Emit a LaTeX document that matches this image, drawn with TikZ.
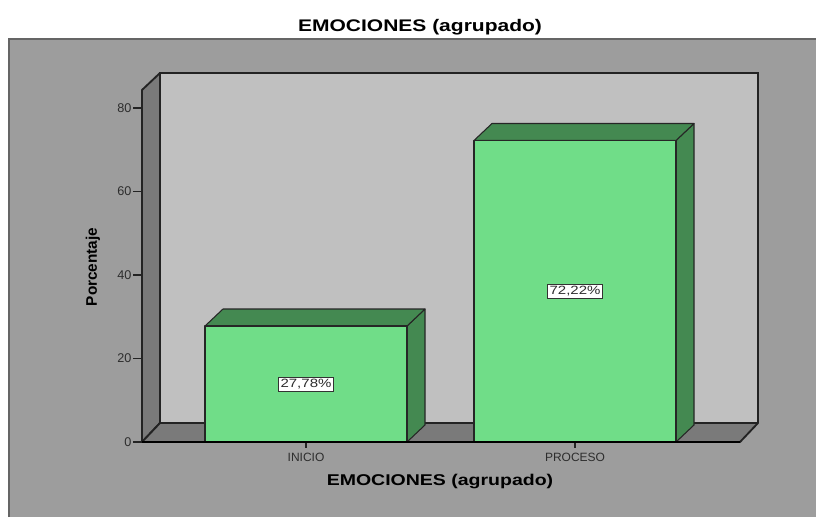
\documentclass[tikz,border=0pt]{standalone}
\usepackage{fontspec}
\setmainfont{Liberation Sans}[FakeStretch=1.25]
\newfontfamily\plainfont{Liberation Sans}
\usetikzlibrary{positioning}
\definecolor{bggray}{RGB}{157,157,157}
\definecolor{wallgray}{RGB}{192,192,192}
\definecolor{sidegray}{RGB}{122,122,122}
\definecolor{edgegray}{RGB}{35,35,35}
\definecolor{textgray}{RGB}{45,45,45}
\definecolor{barlight}{RGB}{112,221,136}
\definecolor{bardark}{RGB}{68,137,81}

\begin{document}
\begin{tikzpicture}[x=0.75pt, y=-0.75pt,
    wall/.style={fill=sidegray, draw=edgegray, line width=1.4pt, line join=round},
    backwall/.style={fill=wallgray, draw=edgegray, line width=1.4pt},
    barfront/.style={fill=barlight, draw=black!85, line width=0.8pt, line join=round},
    barside/.style={fill=bardark, draw=black!85, line width=0.8pt, line join=round},
    valuebox/.style={fill=white, draw=black!80, line width=0.6pt, inner sep=1.5pt, text=textgray, font=\fontsize{9}{10}\selectfont},
    ticklabel/.style={anchor=east, inner sep=1pt, text=textgray, font=\plainfont\fontsize{9.5}{10}\selectfont},
    catlabel/.style={text=textgray, inner sep=0pt, font=\plainfont\fontsize{9}{10}\selectfont}]
\useasboundingbox (0,0) rectangle (816,517);

% chart frame
\fill[bggray] (9,39) rectangle (816,517);
\draw[edgegray!70, line width=0.8pt] (9,517) -- (9,39) -- (816,39);
\node[font=\bfseries\fontsize{12.6}{14}\selectfont] (title) at (420,27) {EMOCIONES (agrupado)};

% 3d box of the plot
\draw[backwall] (160,423) -- (160,73) -- (758,73) -- (758,423);
\draw[wall] (142,442) -- (142,90) -- (160,73) -- (160,423) -- cycle;
\draw[wall] (142,442) -- (160,423) -- (758,423) -- (740,442) -- cycle;

% y axis
\foreach \t in {0,20,...,80}{
    \draw[edgegray, line width=0.8pt] (133,{442-4.175*\t}) -- (142,{442-4.175*\t});
    \node[ticklabel] (tick-\t) at (133,{442-4.175*\t}) {\t};
}
\node[rotate=90, font=\plainfont\bfseries\fontsize{11.5}{13}\selectfont] (ytitle) at (93,267) {Porcentaje};

% bars
\foreach \x/\v/\name/\lab/\txt in {205/27.78/inicio/INICIO/{27,78\%}, 474/72.22/proceso/PROCESO/{72,22\%}}{
    \pgfmathsetmacro{\ytop}{442-4.175*\v}
    \draw[barside] (\x+202,442) -- (\x+220,425) -- (\x+220,\ytop-17) -- (\x+202,\ytop) -- cycle;
    \draw[barside] (\x,\ytop) -- (\x+18,\ytop-17) -- (\x+220,\ytop-17) -- (\x+202,\ytop) -- cycle;
    \draw[barfront] (\x,442) rectangle (\x+202,\ytop);
    \node[valuebox] (val-\name) at (\x+101,{(\ytop+442)/2}) {\txt};
    \draw[edgegray, line width=0.8pt] (\x+101,442) -- (\x+101,448);
    \node[catlabel] (cat-\name) at (\x+101,457) {\lab};
}
\draw[black, line width=1pt] (142,442) -- (740,442);

\node[font=\bfseries\fontsize{11.7}{13}\selectfont] (xtitle) at (440,481) {EMOCIONES (agrupado)};
\end{tikzpicture}
\end{document}
